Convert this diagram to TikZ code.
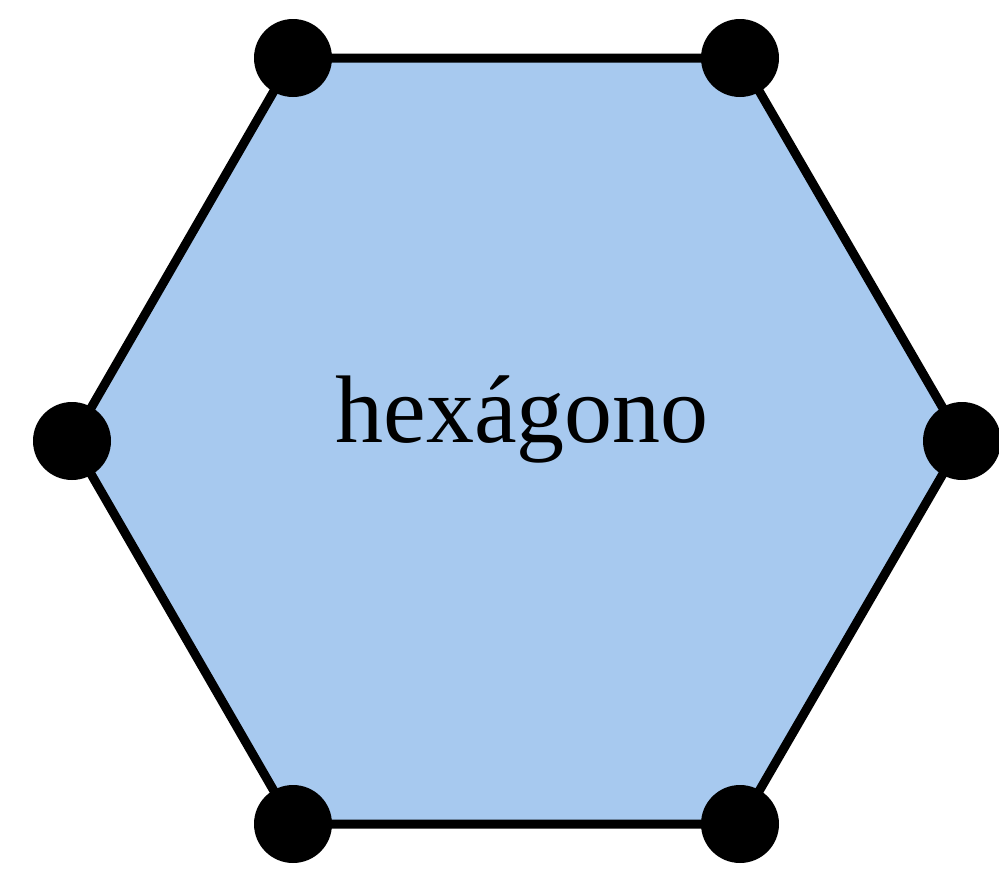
\documentclass[tikz,border=0pt]{standalone}
\usepackage{fontspec}
\setmainfont{Liberation Serif}
\definecolor{hexfill}{RGB}{167,201,239}
\tikzset{
  vdot/.style={circle,fill=black,inner sep=0pt,minimum size=78pt},
  edge/.style={draw=black,line width=9pt},
}
\begin{document}
\begin{tikzpicture}[x=1pt,y=-1pt]
\useasboundingbox (0,0) rectangle (999,870);
\coordinate (A) at (293,58);
\coordinate (B) at (740,58);
\coordinate (C) at (962,441);
\coordinate (D) at (740,824);
\coordinate (E) at (293,824);
\coordinate (F) at (72,441);
\filldraw[fill=hexfill,edge,line join=miter] (A) -- (B) -- (C) -- (D) -- (E) -- (F) -- cycle;
\foreach \p in {A,B,C,D,E,F} \node[vdot] (d\p) at (\p) {};
\node[anchor=base,font=\fontsize{96}{110}\selectfont,inner sep=0pt] (lbl) at (522,442) {hexágono};
\end{tikzpicture}
\end{document}
